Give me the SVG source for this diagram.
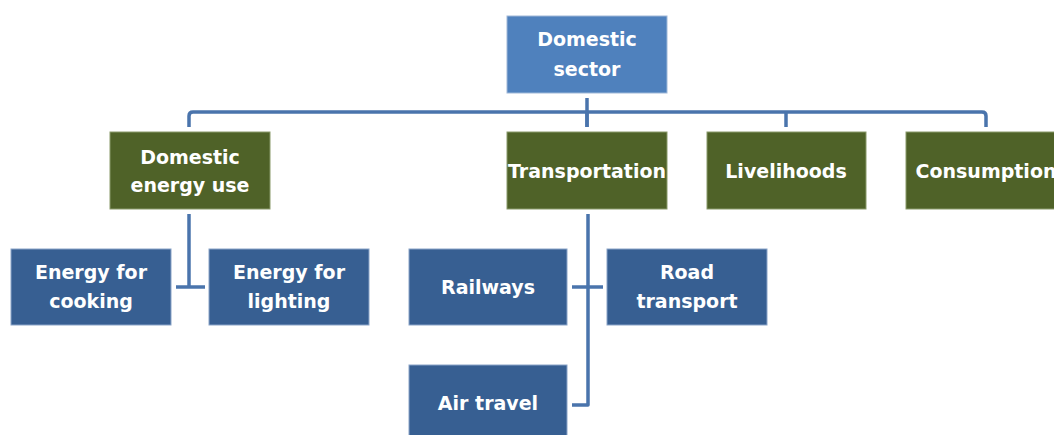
<svg xmlns="http://www.w3.org/2000/svg" width="1054" height="435" viewBox="0 0 1054 435">
<style>
.top{fill:#4F81BD;stroke:#9FB8D8;stroke-width:1}
.l2{fill:#4F6228;stroke:#8A9A6A;stroke-width:1}
.l3{fill:#375F92;stroke:#8AA4C8;stroke-width:1}
text{font-family:"DejaVu Sans","Verdana",sans-serif;font-weight:bold;font-size:19px;fill:#FFFFFF;text-anchor:middle}
.c{fill:none;stroke:#4A74AC;stroke-width:3.5;stroke-linejoin:round}
</style>
<rect width="1054" height="435" fill="#FFFFFF"/>
<g id="connectors">
<path class="c" d="M587 98 V127"/>
<path class="c" d="M189 127 V116 Q189 112 193 112 H982 Q986 112 986 116 V127"/>
<path class="c" d="M587 112 V127"/>
<path class="c" d="M786 112 V127"/>
<path class="c" d="M189 214 V287"/>
<path class="c" d="M176 287 H205"/>
<path class="c" d="M588 214 V405 H572"/>
<path class="c" d="M572 287 H603"/>
</g>
<g id="domestic-sector"><rect class="top" x="507" y="16" width="160" height="77"/><text x="587" y="46">Domestic</text><text x="587" y="76">sector</text></g>
<g id="domestic-energy-use"><rect class="l2" x="110" y="132" width="160" height="77"/><text x="190" y="164">Domestic</text><text x="190" y="192">energy use</text></g>
<g id="transportation"><rect class="l2" x="507" y="132" width="160" height="77"/><text x="587" y="178">Transportation</text></g>
<g id="livelihoods"><rect class="l2" x="707" y="132" width="159" height="77"/><text x="786" y="178">Livelihoods</text></g>
<g id="consumption"><rect class="l2" x="906" y="132" width="160" height="77"/><text x="986" y="178">Consumption</text></g>
<g id="energy-cooking"><rect class="l3" x="11" y="249" width="160" height="76"/><text x="91" y="279">Energy for</text><text x="91" y="308">cooking</text></g>
<g id="energy-lighting"><rect class="l3" x="209" y="249" width="160" height="76"/><text x="289" y="279">Energy for</text><text x="289" y="308">lighting</text></g>
<g id="railways"><rect class="l3" x="409" y="249" width="158" height="76"/><text x="488" y="294">Railways</text></g>
<g id="road-transport"><rect class="l3" x="607" y="249" width="160" height="76"/><text x="687" y="279">Road</text><text x="687" y="308">transport</text></g>
<g id="air-travel"><rect class="l3" x="409" y="365" width="158" height="76"/><text x="488" y="410">Air travel</text></g>
</svg>
